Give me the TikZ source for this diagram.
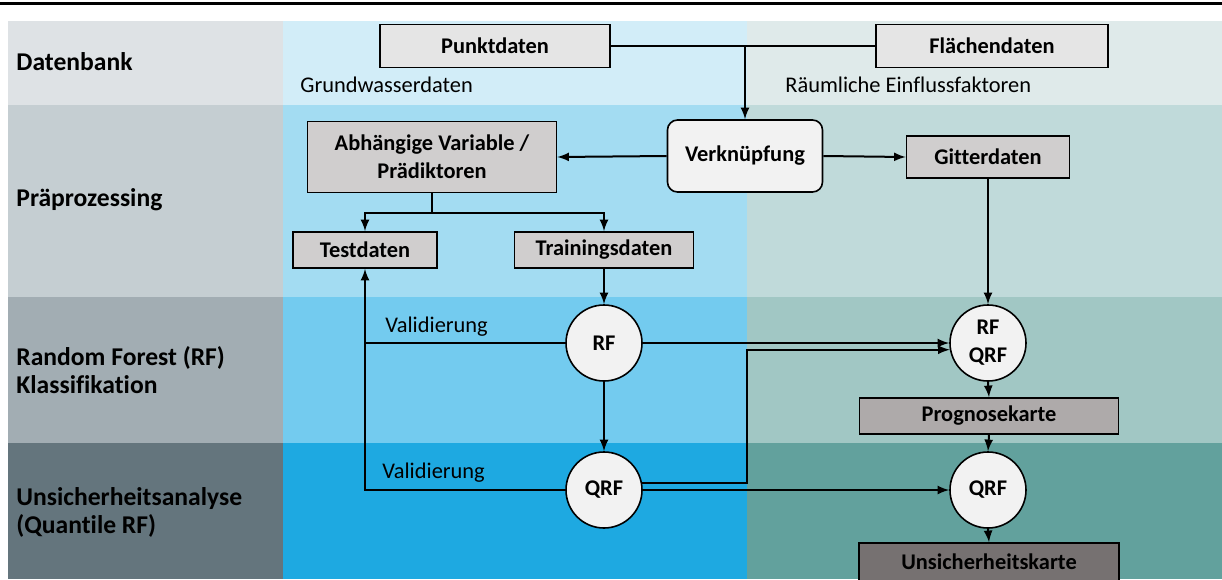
\documentclass[tikz,border=0pt]{standalone}
\usepackage{fontspec}
\setmainfont[Ligatures=NoCommon]{Carlito}
\usepackage{tikz}
\usetikzlibrary{arrows,shapes}
\definecolor{lftA}{HTML}{DEE2E5}
\definecolor{lftB}{HTML}{C5CED2}
\definecolor{lftC}{HTML}{A2ADB3}
\definecolor{lftD}{HTML}{64757D}
\definecolor{midA}{HTML}{D2EDF8}
\definecolor{midB}{HTML}{A3DCF2}
\definecolor{midC}{HTML}{73CBEF}
\definecolor{midD}{HTML}{1EA9E1}
\definecolor{rgtA}{HTML}{DFEAEA}
\definecolor{rgtB}{HTML}{C0DADA}
\definecolor{rgtC}{HTML}{A1C7C4}
\definecolor{rgtD}{HTML}{62A19D}
\definecolor{boxlight}{HTML}{E5E5E5}
\definecolor{boxmid}{HTML}{D0CECE}
\definecolor{boxdark}{HTML}{AEAAAA}
\definecolor{boxdeep}{HTML}{767171}
\definecolor{nodewhite}{HTML}{F2F2F2}

\begin{document}
\begin{tikzpicture}[x=0.5pt,y=-0.5pt,
	databox/.style={draw=black,line width=0.8pt,inner sep=0pt,align=center,font=\fontsize{11.2}{14}\selectfont\bfseries},
	modelnode/.style={circle,draw=black,line width=0.8pt,fill=nodewhite,minimum size=38pt,inner sep=0pt,align=center,font=\fontsize{11.2}{14}\selectfont\bfseries},
	rowlabel/.style={anchor=west,align=left,inner sep=0pt,font=\fontsize{12.8}{14}\selectfont\bfseries},
	note/.style={inner sep=0pt,font=\fontsize{11.2}{14}\selectfont},
	flow/.style={line width=1pt,-latex}]
	
	\clip (0,0) rectangle (1222,579);
	\fill[white] (0,0) rectangle (1222,579);
	\draw[line width=1.5pt] (0,3) -- (1222,3);
	
	% bands
	\fill[lftA] (8,21) rectangle (283,105);
	\fill[lftB] (8,105) rectangle (283,297);
	\fill[lftC] (8,297) rectangle (283,443);
	\fill[lftD] (8,443) rectangle (283,579);
	\fill[midA] (283,21) rectangle (747,105);
	\fill[midB] (283,105) rectangle (747,297);
	\fill[midC] (283,297) rectangle (747,443);
	\fill[midD] (283,443) rectangle (747,579);
	\fill[rgtA] (747,21) rectangle (1222,105);
	\fill[rgtB] (747,105) rectangle (1222,297);
	\fill[rgtC] (747,297) rectangle (1222,443);
	\fill[rgtD] (747,443) rectangle (1222,579);
	
	\node[rowlabel] (rowdb) at (16,62) {Datenbank};
	\node[rowlabel] (rowpre) at (16,200) {Präprozessing};
	\node[rowlabel] (rowrf) at (16,370) {Random Forest (RF)\\Klassifikation};
	\node[rowlabel] (rowqrf) at (16,512) {Unsicherheitsanalyse\\(Quantile RF)};
	
	% data boxes
	\node[databox,fill=boxlight,minimum width=115pt,minimum height=21.5pt] (punkt) at (495,46) {Punktdaten};
	\node[databox,fill=boxlight,minimum width=116pt,minimum height=21.5pt] (flaeche) at (992,46) {Flächendaten};
	\node[note,anchor=west] (grund) at (300,85) {Grundwasserdaten};
	\node[note,anchor=west] (raum) at (785,85) {Räumliche Einflussfaktoren};
	
	\node[databox,fill=nodewhite,rounded corners=5pt,minimum width=77.5pt,minimum height=36pt] (verkn) at (745,156) {Verknüpfung};
	\node[databox,fill=boxmid,minimum width=124.5pt,minimum height=35.5pt] (abh) at (432,157) {Abhängige Variable /\\Prädiktoren};
	\node[databox,fill=boxmid,minimum width=81.5pt,minimum height=21pt] (gitter) at (988,157) {Gitterdaten};
	\node[databox,fill=boxmid,minimum width=72pt,minimum height=18pt] (test) at (365,250) {Testdaten};
	\node[databox,fill=boxmid,minimum width=89.5pt,minimum height=18pt] (train) at (604,250) {Trainingsdaten};
	
	% models
	\node[modelnode] (rf) at (604,343) {RF};
	\node[modelnode] (qrf) at (604,490) {QRF};
	\node[modelnode] (rfq) at (988,343) {RF\\QRF};
	\node[modelnode] (qrfR) at (988,490) {QRF};
	\node[databox,fill=boxdark,minimum width=129.5pt,minimum height=18pt] (prog) at (989,416) {Prognosekarte};
	\node[databox,fill=boxdeep,minimum width=130pt,minimum height=19pt] (unsich) at (989,562) {Unsicherheitskarte};
	
	\node[note,anchor=west] (val1) at (385,327) {Validierung};
	\node[note,anchor=west] (val2) at (382,473) {Validierung};
	
	\coordinate (join) at (745,46);
	\coordinate (split) at (432,213);
	\coordinate (colR) at (747,0);
	
	% connectors
	\draw[line width=1pt] (punkt.east) -- (flaeche.west);
	\draw[flow] (join) -- (verkn.north);
	\draw[flow] (verkn.west) -- (abh.east);
	\draw[flow] (verkn.east) -- (gitter.west);
	\draw[line width=1pt] (abh.south) -- (split);
	\draw[flow] (split) -| (test.north);
	\draw[flow] (split) -| (train.north);
	\draw[flow] (train.south) -- (rf.north);
	\draw[flow] (rf.south) -- (qrf.north);
	\draw[flow] (qrf.west) -| (test.south);
	\draw[line width=1pt] (rf.west) -- (rf.west -| test.south);
	\draw[flow] (rf.east) -- (rfq.west);
	\draw[flow] (qrf.10) -- (qrf.10 -| colR) -- (colR |- rfq.190) -- (rfq.190);
	\draw[flow] (qrf.east) -- (qrfR.west);
	\draw[flow] (gitter.south) -- (rfq.north);
	\draw[flow] (rfq.south) -- (prog.north);
	\draw[flow] (prog.south) -- (qrfR.north);
	\draw[flow] (qrfR.south) -- (unsich.north);
\end{tikzpicture}
\end{document}
